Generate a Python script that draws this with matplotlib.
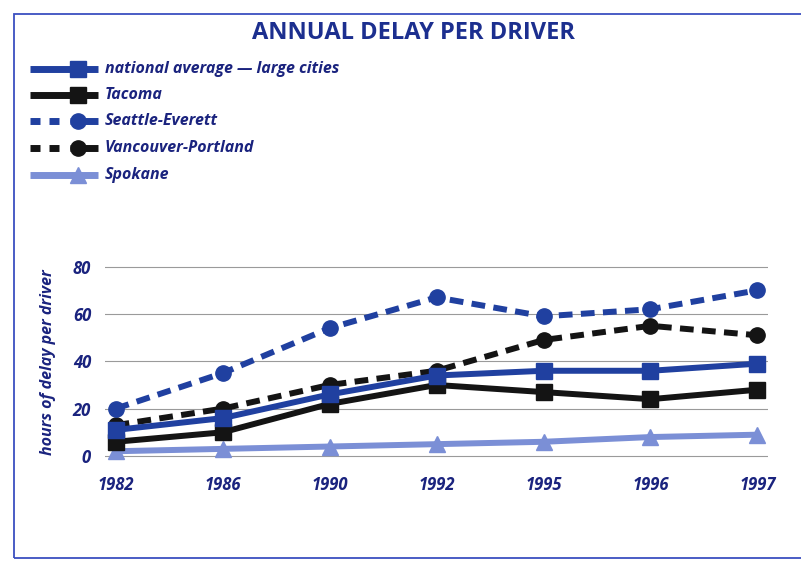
import matplotlib
matplotlib.use("Agg")
import matplotlib.pyplot as plt
from matplotlib.lines import Line2D
from matplotlib.patches import Rectangle

years = ["1982", "1986", "1990", "1992", "1995", "1996", "1997"]
national = [11, 16, 26, 34, 36, 36, 39]
tacoma = [6, 10, 22, 30, 27, 24, 28]
seattle = [20, 35, 54, 67, 59, 62, 70]
vancouver = [13, 20, 30, 36, 49, 55, 51]
spokane = [2, 3, 4, 5, 6, 8, 9]
yticks = [0, 20, 40, 60, 80]

names = ["national average \u2014 large cities", "Tacoma", "Seattle-Everett",
         "Vancouver-Portland", "Spokane"]

BLUE = "#2040a0"
DARK = "#1a237e"
BLACK = "#141414"
LIGHT = "#7b8fd6"
FONT = ["Open Sans", "DejaVu Sans"]

W, H = 801, 562
fig = plt.figure(figsize=(W / 100, H / 100), dpi=100)
fig.patch.set_facecolor("white")

def fx(px):
    return px / W

def fy(py):
    return 1 - py / H

# frame
fig.add_artist(Rectangle((fx(14), fy(558)), 790 / W, 544 / H,
                         transform=fig.transFigure, fill=False,
                         edgecolor="#3b4fc0", linewidth=1.3))

ax = fig.add_axes([0.131, 0.176, 0.828, 0.358])
x = list(range(len(years)))
lw = 4.3
dash = (0, (2.3, 1.4))
styles = [
    (spokane, LIGHT, "-", "^", 12, 1),
    (vancouver, BLACK, dash, "o", 11, 2),
    (tacoma, BLACK, "-", "s", 11, 3),
    (national, BLUE, "-", "s", 11, 4),
    (seattle, BLUE, dash, "o", 11, 5),
]
for vals, col, ls, mk, ms, z in styles:
    ax.plot(x, vals, color=col, linestyle=ls, linewidth=lw, marker=mk,
            markersize=ms, markerfacecolor=col, markeredgecolor=col,
            zorder=z, solid_capstyle="butt", dash_capstyle="butt")

ax.set_xlim(-0.1, 6.1)
ax.set_ylim(-3, 82)
ax.set_yticks(yticks)
ax.set_yticklabels([str(v) for v in yticks])
ax.set_xticks(x)
ax.set_xticklabels(years)
ax.grid(axis="y", color="#9a9a9a", linewidth=0.8)
ax.set_axisbelow(True)
for s in ax.spines.values():
    s.set_visible(False)
ax.tick_params(axis="both", length=0)
ax.tick_params(axis="y", pad=10)
ax.tick_params(axis="x", pad=9)
for lab in ax.get_xticklabels() + ax.get_yticklabels():
    lab.set_family(FONT)
    lab.set_fontweight("bold")
    lab.set_style("italic")
    lab.set_color(DARK)
    lab.set_fontsize(12)
ax.set_ylabel("hours of delay per driver", family=FONT, fontweight="bold",
              style="italic", color=DARK, fontsize=11.5, labelpad=12)

fig.text(fx(413), fy(33), "ANNUAL DELAY PER DRIVER", ha="center", va="center",
         family=FONT, fontweight="bold", fontsize=17, color="#1c2f8f")

# manual legend
rows = [69, 95, 121, 148, 175]
legend_styles = [
    (BLUE, "-", "s", 11),
    (BLACK, "-", "s", 11),
    (BLUE, "--", "o", 11),
    (BLACK, "--", "o", 11),
    (LIGHT, "-", "^", 12),
]
for (col, ls, mk, ms), name, ry in zip(legend_styles, names, rows):
    if ls == "-":
        fig.add_artist(Line2D([fx(30), fx(98)], [fy(ry), fy(ry)], color=col,
                              linewidth=5, transform=fig.transFigure,
                              solid_capstyle="butt"))
    else:
        for a, b in [(30, 40), (49, 59), (70, 98)]:
            fig.add_artist(Line2D([fx(a), fx(b)], [fy(ry), fy(ry)], color=col,
                                  linewidth=5, transform=fig.transFigure,
                                  solid_capstyle="butt"))
    fig.add_artist(Line2D([fx(78)], [fy(ry)], color=col, marker=mk,
                          markersize=ms, linestyle="none",
                          transform=fig.transFigure))
    fig.text(fx(105), fy(ry), name, ha="left", va="center", family=FONT,
             fontweight="bold", style="italic", fontsize=11.5, color=DARK)

fig.savefig("out.png", dpi=100)
